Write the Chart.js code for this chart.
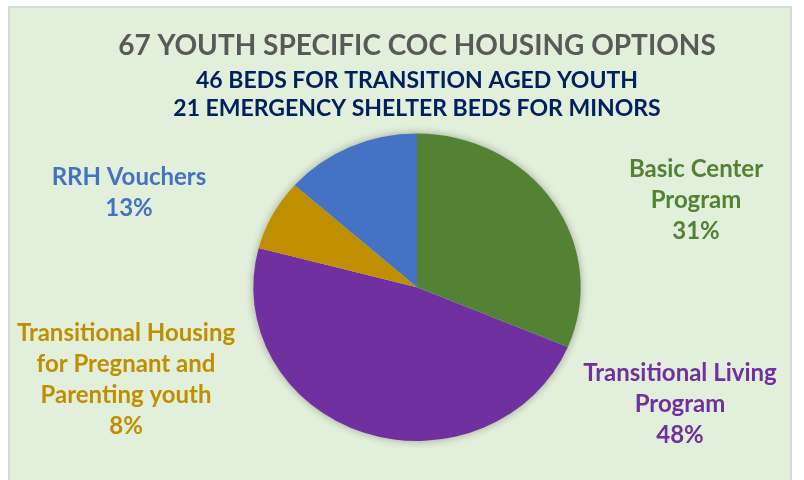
<!DOCTYPE html>
<html lang="en">
<head>
  <meta charset="UTF-8">
  <title>67 Youth Specific CoC Housing Options</title>
  <script src="https://cdn.jsdelivr.net/npm/chart.js"></script>
  <style>
    html, body { margin: 0; padding: 0; background: #ffffff; }
    #frame {
      position: absolute; left: 8px; top: 6px; width: 784px; height: 480px;
      box-sizing: border-box; background: #E2EFDA;
      border: 2px solid #D9D9D9; border-bottom: none;
    }
    #wrap { position: absolute; left: 0; top: 0; width: 804px; height: 480px; }
  </style>
</head>
<body>
  <div id="frame"></div>
  <div id="wrap">
    <canvas id="cocPie"></canvas>
  </div>

  <script>
    // data
    const categories = ['Basic Center Program', 'Transitional Living Program',
      'Transitional Housing for Pregnant and Parenting youth', 'RRH Vouchers'];
    const beds = [21, 32, 5, 9];
    const percentLabels = ['31%', '48%', '8%', '13%'];
    const labelLines = [
      ['Basic Center', 'Program'],
      ['Transitional Living', 'Program'],
      ['Transitional Housing', 'for Pregnant and', 'Parenting youth'],
      ['RRH Vouchers']
    ];
    const titleText = '67 YOUTH SPECIFIC COC HOUSING OPTIONS';
    const subtitleLines = ['46 BEDS FOR TRANSITION AGED YOUTH', '21 EMERGENCY SHELTER BEDS FOR MINORS'];

    const sliceColors = ['#548235', '#7030A0', '#BF8F00', '#4472C4'];
    // where each label block sits, relative to the pie centre (px)
    const labelOffsets = [[279, -87], [263, 117], [-291, 92], [-288, -95]];
    const stretchX = 164 / 154;   // the original pie is a little wider than tall
    const FONT = 'Lato, "Open Sans", sans-serif';

    // stretch the pie sideways and give it a soft shadow
    const ovalPie = {
      id: 'ovalPie',
      beforeDatasetsDraw(chart) {
        const ctx = chart.ctx;
        const arc = chart.getDatasetMeta(0).data[0];
        ctx.save();
        ctx.translate(arc.x, arc.y);
        ctx.scale(stretchX, 1);
        ctx.translate(-arc.x, -arc.y);
        ctx.save();
        ctx.shadowColor = 'rgba(0, 0, 0, 0.35)';
        ctx.shadowBlur = 9;
        ctx.fillStyle = '#E2EFDA';
        ctx.beginPath();
        ctx.arc(arc.x, arc.y, arc.outerRadius - 0.5, 0, Math.PI * 2);
        ctx.fill();
        ctx.restore();
      },
      afterDatasetsDraw(chart) {
        chart.ctx.restore();
      }
    };

    // category name + percentage, outside the pie
    const sliceLabels = {
      id: 'sliceLabels',
      afterDraw(chart) {
        const ctx = chart.ctx;
        const arcs = chart.getDatasetMeta(0).data;
        const lineH = 31;
        ctx.save();
        ctx.font = 'bold 24px ' + FONT;
        ctx.textAlign = 'center';
        ctx.textBaseline = 'middle';
        arcs.forEach((arc, i) => {
          const lines = labelLines[i].concat([percentLabels[i]]);
          const cx = arc.x + labelOffsets[i][0];
          const cy = arc.y + labelOffsets[i][1];
          const top = cy - (lines.length - 1) * lineH / 2;
          ctx.fillStyle = sliceColors[i];
          lines.forEach((t, j) => ctx.fillText(t, cx, top + j * lineH));
        });
        ctx.restore();
      }
    };

    new Chart(document.getElementById('cocPie'), {
      type: 'pie',
      data: {
        labels: categories,
        datasets: [{
          data: beds,
          backgroundColor: sliceColors,
          borderWidth: 0
        }]
      },
      options: {
        responsive: true,
        maintainAspectRatio: false,
        animation: false,
        layout: { padding: { left: 30, right: 0, top: 29, bottom: 39 } },
        plugins: {
          legend: { display: false },
          tooltip: { enabled: false },
          title: {
            display: true,
            text: titleText,
            color: '#595959',
            font: { family: FONT, size: 28, weight: 'bold', lineHeight: 1.2 },
            padding: { top: 0, bottom: 3 }
          },
          subtitle: {
            display: true,
            text: subtitleLines,
            color: '#002060',
            font: { family: FONT, size: 23, weight: 'bold', lineHeight: 1.26 },
            padding: { top: 0, bottom: 10 }
          }
        }
      },
      plugins: [ovalPie, sliceLabels]
    });
  </script>
</body>
</html>
